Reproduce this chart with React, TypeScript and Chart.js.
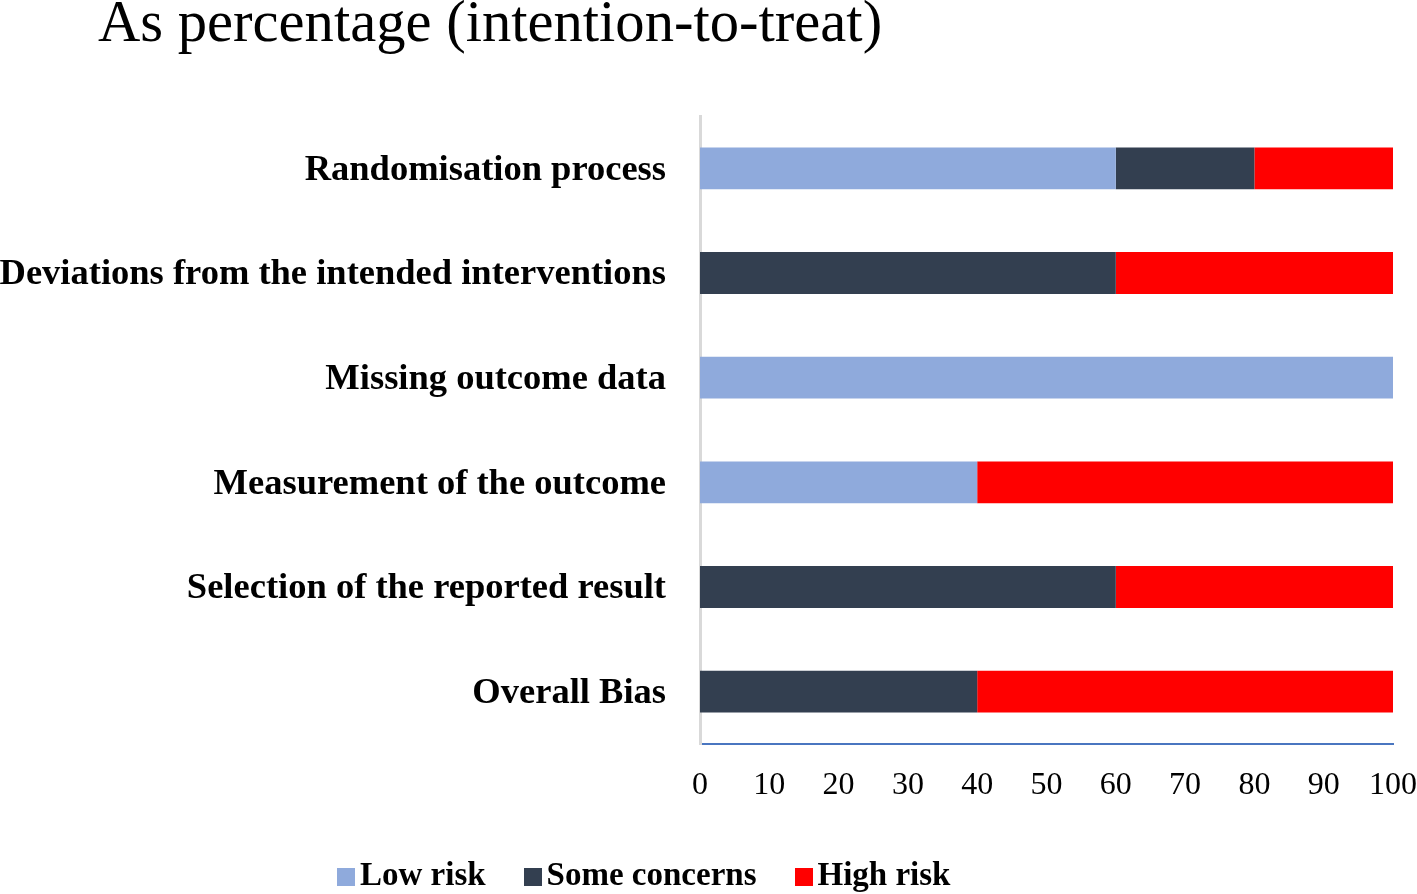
import React, { useEffect, useRef } from "react";
import { Chart, registerables } from "chart.js";

Chart.register(...registerables);

const TITLE = "As percentage (intention-to-treat)";
const categories = [
  "Randomisation process",
  "Deviations from the intended interventions",
  "Missing outcome data",
  "Measurement of the outcome",
  "Selection of the reported result",
  "Overall Bias",
];
const seriesNames = ["Low risk", "Some concerns", "High risk"];
const seriesColors = ["#8FAADC", "#333F50", "#FF0000"];
const lowRisk = [60, 0, 100, 40, 0, 0];
const someConcerns = [20, 60, 0, 0, 60, 40];
const highRisk = [20, 40, 0, 60, 40, 60];
const seriesValues = [lowRisk, someConcerns, highRisk];
const xTicks = [0, 10, 20, 30, 40, 50, 60, 70, 80, 90, 100];

const FONT = "'Liberation Serif', 'Times New Roman', serif";

export default function App() {
  const ref = useRef<HTMLCanvasElement | null>(null);

  useEffect(() => {
    document.body.style.margin = "0";
    if (!ref.current) return;
    const chart = new Chart(ref.current, {
      type: "bar",
      data: {
        labels: categories,
        datasets: seriesNames.map((name, i) => ({
          label: name,
          data: seriesValues[i],
          backgroundColor: seriesColors[i],
          borderWidth: 0,
          barPercentage: 0.4,
          categoryPercentage: 1,
        })),
      },
      options: {
        indexAxis: "y",
        responsive: false,
        animation: false,
        layout: { padding: { top: 116, right: 24, left: 0, bottom: 0 } },
        plugins: {
          legend: { display: false },
          title: { display: false },
          tooltip: { enabled: false },
        },
        scales: {
          x: {
            stacked: true,
            min: 0,
            max: 100,
            afterFit: (s: any) => {
              s.height = 150;
              s.paddingLeft = 0;
              s.paddingRight = 0;
            },
            afterBuildTicks: (s: any) => {
              s.ticks = xTicks.map((v) => ({ value: v }));
            },
            grid: { display: false, drawTicks: false },
            border: { display: true, color: "#4A76C0", width: 2 },
            ticks: {
              color: "#000",
              padding: 22,
              font: { family: FONT, size: 32 },
              maxRotation: 0,
              autoSkip: false,
            },
          },
          y: {
            stacked: true,
            afterFit: (s: any) => {
              s.width = 700;
              s.paddingTop = 0;
              s.paddingBottom = 0;
            },
            grid: { display: false, drawTicks: false },
            border: { display: true, color: "#D9D9D9", width: 3 },
            ticks: {
              color: "#000",
              padding: 34,
              labelOffset: 2,
              font: { family: FONT, size: 36.5, weight: "bold" },
            },
          },
        },
      },
    });
    return () => chart.destroy();
  }, []);

  return (
    <div style={{ position: "relative", width: 1417, height: 894, background: "#fff", overflow: "hidden" }}>
      <canvas ref={ref} width={1417} height={894} style={{ position: "absolute", left: 0, top: 0 }} />
      <div
        style={{
          position: "absolute",
          left: 98,
          top: -7,
          fontFamily: FONT,
          fontSize: 58.6,
          lineHeight: "58px",
          whiteSpace: "nowrap",
          color: "#000",
        }}
      >
        {TITLE}
      </div>
      <div
        style={{
          position: "absolute",
          left: 337,
          top: 858,
          display: "flex",
          alignItems: "flex-start",
          gap: 38,
          fontFamily: FONT,
          fontSize: 33,
          fontWeight: "bold",
          lineHeight: "33px",
          whiteSpace: "nowrap",
          color: "#000",
        }}
      >
        {seriesNames.map((name, i) => (
          <div key={name} style={{ display: "flex", alignItems: "flex-start", gap: 5 }}>
            <span style={{ display: "inline-block", width: 18, height: 18, marginTop: 10, background: seriesColors[i] }} />
            <span>{name}</span>
          </div>
        ))}
      </div>
    </div>
  );
}
